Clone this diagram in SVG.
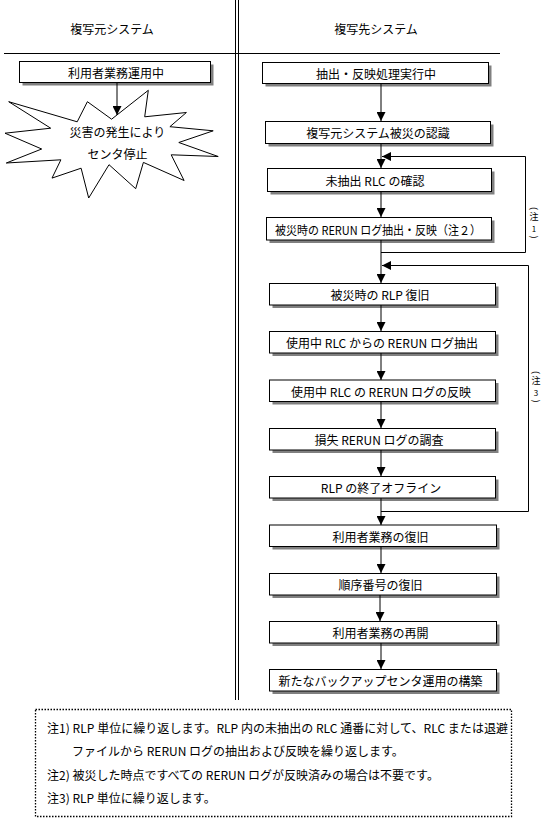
<svg xmlns="http://www.w3.org/2000/svg" width="548" height="822" viewBox="0 0 548 822">
<defs>
<style>
.box{fill:#fff;stroke:#000;stroke-width:1}
.sh{fill:#808080}
.t{font-family:"Noto Sans CJK JP","Noto Sans",sans-serif;font-size:12px;fill:#000}
.c{font-family:"Noto Sans CJK JP","Noto Sans",sans-serif;font-size:12px;fill:#000;text-anchor:middle;dominant-baseline:central}
.v{font-family:"Noto Sans CJK JP","Noto Sans",sans-serif;font-size:9px;fill:#000;text-anchor:middle;dominant-baseline:central}
.d{font-size:8px}
.ln{stroke:#000;stroke-width:1;fill:none}
</style>
<marker id="ah" viewBox="0 0 10 10" refX="10" refY="5" markerWidth="9" markerHeight="9" markerUnits="userSpaceOnUse" orient="auto"><path d="M0,0 L10,5 L0,10 z" fill="#000"/></marker>
</defs>
<rect width="548" height="822" fill="#fff"/>
<g id="frame">
<line class="ln" x1="235.5" y1="0" x2="235.5" y2="700"/>
<line class="ln" x1="238.5" y1="0" x2="238.5" y2="700"/>
<line class="ln" x1="4" y1="53.5" x2="500" y2="53.5"/>
<text class="c" x="112" y="28">複写元システム</text>
<text class="c" x="376" y="28">複写先システム</text>
</g>
<g id="src-run">
<rect class="sh" x="22.5" y="64.5" width="191" height="21"/>
<rect class="box" x="19.5" y="61.5" width="191" height="21"/>
<text class="c" x="116" y="72">利用者業務運用中</text>
</g>
<g id="src-stop">
<polygon class="box" points="111.6,119.2 148.3,90.3 144.7,116.8 186.4,112.5 169.9,126.7 213.2,130.8 178.8,142.5 218.2,156.5 171.2,154.8 184.1,180.5 143.4,162.4 135.7,188.7 109,164.7 88.7,198 81.1,168.2 52,178.1 60.9,159.8 6.3,163 41.7,149 5,133.2 50.7,128.2 8.7,101.7 77.2,121.8 87.4,101.7"/>
<text class="c" x="117.5" y="131.5">災害の発生により</text>
<text class="c" x="117.5" y="153">センタ停止</text>
</g>
<g id="b1"><rect class="sh" x="265.5" y="65.5" width="226" height="21"/><rect class="box" x="262.5" y="62.5" width="226" height="21"/><text class="c" x="376" y="73">抽出・反映処理実行中</text></g>
<g id="b2"><rect class="sh" x="268.5" y="124.5" width="225" height="22"/><rect class="box" x="265.5" y="121.5" width="225" height="22"/><text class="c" x="378" y="132.5">複写元システム被災の認識</text></g>
<g id="b3"><rect class="sh" x="270.5" y="171.5" width="224" height="23"/><rect class="box" x="267.5" y="168.5" width="224" height="23"/><text class="c" x="375" y="180">未抽出 RLC の確認</text></g>
<g id="b4"><rect class="sh" x="269.5" y="220.5" width="225" height="22.5"/><rect class="box" x="266.5" y="217.5" width="225" height="22.5"/><text class="c" x="378" y="229" textLength="206" lengthAdjust="spacingAndGlyphs">被災時の RERUN ログ抽出・反映（注２）</text></g>
<g id="b5"><rect class="sh" x="272.5" y="286.5" width="226" height="21.5"/><rect class="box" x="269.5" y="283.5" width="226" height="21.5"/><text class="c" x="380" y="294.5">被災時の RLP 復旧</text></g>
<g id="b6"><rect class="sh" x="272.5" y="334.5" width="226" height="21.5"/><rect class="box" x="269.5" y="331.5" width="226" height="21.5"/><text class="c" x="382" y="342.5">使用中 RLC からの RERUN ログ抽出</text></g>
<g id="b7"><rect class="sh" x="272.5" y="383" width="226" height="21.5"/><rect class="box" x="269.5" y="380" width="226" height="21.5"/><text class="c" x="381" y="391">使用中 RLC の RERUN ログの反映</text></g>
<g id="b8"><rect class="sh" x="272.5" y="431.5" width="226" height="21.5"/><rect class="box" x="269.5" y="428.5" width="226" height="21.5"/><text class="c" x="379" y="439.5">損失 RERUN ログの調査</text></g>
<g id="b9"><rect class="sh" x="272.5" y="479.5" width="226" height="21.5"/><rect class="box" x="269.5" y="476.5" width="226" height="21.5"/><text class="c" x="381" y="487.5">RLP の終了オフライン</text></g>
<g id="b10"><rect class="sh" x="272.5" y="528" width="227" height="21.5"/><rect class="box" x="269.5" y="525" width="227" height="21.5"/><text class="c" x="380.5" y="536">利用者業務の復旧</text></g>
<g id="b11"><rect class="sh" x="272.5" y="576.5" width="227" height="21.5"/><rect class="box" x="269.5" y="573.5" width="227" height="21.5"/><text class="c" x="380.5" y="584.5">順序番号の復旧</text></g>
<g id="b12"><rect class="sh" x="272.5" y="624.5" width="227" height="21.5"/><rect class="box" x="269.5" y="621.5" width="227" height="21.5"/><text class="c" x="380.5" y="632.5">利用者業務の再開</text></g>
<g id="b13"><rect class="sh" x="272.5" y="672.5" width="227" height="21.5"/><rect class="box" x="269.5" y="669.5" width="227" height="21.5"/><text class="c" x="380.5" y="680.5">新たなバックアップセンタ運用の構築</text></g>
<g id="connectors">
<line class="ln" x1="117" y1="83" x2="117" y2="115" marker-end="url(#ah)"/>
<line class="ln" x1="381" y1="84" x2="381" y2="121" marker-end="url(#ah)"/>
<line class="ln" x1="381" y1="144" x2="381" y2="168" marker-end="url(#ah)"/>
<line class="ln" x1="381" y1="192" x2="381" y2="217" marker-end="url(#ah)"/>
<line class="ln" x1="381" y1="240" x2="381" y2="283" marker-end="url(#ah)"/>
<path class="ln" d="M381,252.5 H525.5 V156.5 H382" marker-end="url(#ah)"/>
<path class="ln" d="M381,511.5 H528.5 V265.5 H382" marker-end="url(#ah)"/>
<line class="ln" x1="381" y1="305" x2="381" y2="331" marker-end="url(#ah)"/>
<line class="ln" x1="381" y1="353" x2="381" y2="380" marker-end="url(#ah)"/>
<line class="ln" x1="381" y1="402" x2="381" y2="428" marker-end="url(#ah)"/>
<line class="ln" x1="381" y1="450" x2="381" y2="476" marker-end="url(#ah)"/>
<line class="ln" x1="381" y1="498" x2="381" y2="525" marker-end="url(#ah)"/>
<line class="ln" x1="381" y1="547" x2="381" y2="573" marker-end="url(#ah)"/>
<line class="ln" x1="380" y1="595" x2="380" y2="621" marker-end="url(#ah)"/>
<line class="ln" x1="381" y1="643" x2="381" y2="669" marker-end="url(#ah)"/>
</g>
<g id="loop-labels">
<text class="v" x="534" y="208.5" transform="rotate(90 534 208.5)">(</text>
<text class="v" x="534" y="216">注</text>
<text class="v d" x="534" y="228.5">1</text>
<text class="v" x="534" y="237" transform="rotate(90 534 237)">)</text>
<text class="v" x="536" y="372.5" transform="rotate(90 536 372.5)">(</text>
<text class="v" x="536" y="380">注</text>
<text class="v d" x="536" y="392.5">3</text>
<text class="v" x="536" y="401" transform="rotate(90 536 401)">)</text>
</g>
<g id="notes">
<rect x="35.5" y="709.5" width="476" height="107" fill="none" stroke="#000" stroke-width="1.3" stroke-dasharray="1.5 1.5"/>
<text class="t" x="47" y="732.5" textLength="461" lengthAdjust="spacing">注1) RLP 単位に繰り返します。RLP 内の未抽出の RLC 通番に対して、RLC または退避</text>
<text class="t" x="72" y="756">ファイルから RERUN ログの抽出および反映を繰り返します。</text>
<text class="t" x="47" y="779.5">注2) 被災した時点ですべての RERUN ログが反映済みの場合は不要です。</text>
<text class="t" x="47" y="803">注3) RLP 単位に繰り返します。</text>
</g>
</svg>
